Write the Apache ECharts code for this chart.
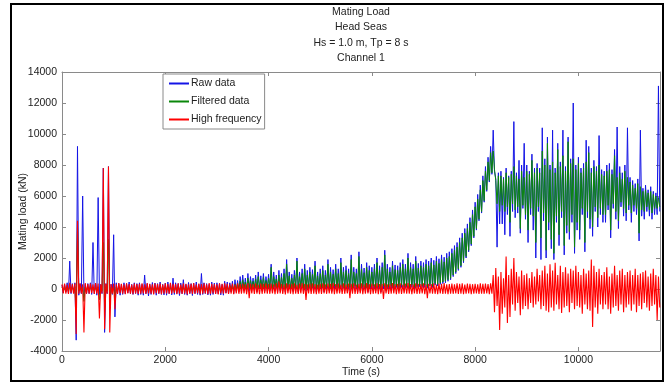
<!DOCTYPE html>
<html><head><meta charset="utf-8">
<script src="https://cdn.jsdelivr.net/npm/echarts@6/dist/echarts.min.js"></script>
<style>html,body{margin:0;padding:0;background:#fff}#c{width:667px;height:383px}</style>
</head><body><div id="c"></div>
<script>
const titleLines = ['Mating Load', 'Head Seas', 'Hs = 1.0 m, Tp = 8 s', 'Channel 1'];
const seriesNames = ['Raw data', 'Filtered data', 'High frequency'];
const xAxisName = 'Time (s)';
const yAxisName = 'Mating load (kN)';
const timeStep = 25;   // seconds between samples
const timeMax = 11580;
const yMin = -4000, yMax = 14000, yStep = 2000, xStep = 2000;

// one row = 20 samples = 500 s
const rawData = [
  250,-250,300,-200,400,-300,1800,-300,350,-250,400,-3300,9200,-400,350,-300,6000,-400,300,-300,
  350,-300,400,-350,3000,-300,350,-400,5900,-350,300,-300,7800,-2800,350,-300,7900,-1000,300,-350,
  3500,-1800,400,-300,350,-400,300,-350,400,-300,350,-250,450,-300,300,-350,400,-300,350,-400,
  400,-350,300,-400,900,-300,350,-450,300,-350,420,-300,380,-400,350,-300,450,-350,300,-380,
  380,-400,450,-300,350,-380,700,-350,400,-300,350,-420,380,-300,600,-350,300,-400,420,-300,
  350,-420,380,-300,450,-350,300,-400,1000,-350,400,-300,350,-380,300,-400,450,-350,380,-300,
  400,-300,350,-380,300,-400,500,-250,450,-300,400,-200,500,-300,600,-150,550,-200,800,-100,
  900,-100,700,-200,1000,-150,800,0,700,-100,900,-200,1100,0,850,-100,1000,-150,800,0,
  950,-100,1600,-150,1100,0,900,-200,1200,-100,1000,0,1300,-200,1900,0,1100,-100,950,-150,
  1200,0,2000,-200,1100,0,1300,-100,1600,-150,1200,0,1400,-100,1250,0,1800,-200,1100,-100,
  1300,0,1500,-200,1200,0,1900,-100,1400,-150,1250,0,1600,-100,1300,-200,2000,0,1400,-100,
  1500,0,1300,-100,2200,-150,1400,0,1300,-200,2400,-100,1600,0,1350,-100,1700,-200,1500,0,
  1400,0,1600,-100,2000,0,1500,-200,1700,0,2500,-100,1600,0,1400,-100,1800,0,1550,100,
  1500,0,1700,100,1900,0,1600,100,2300,0,1700,100,1600,0,2100,100,1650,150,1800,100,
  1700,100,1900,50,1800,200,2000,100,1850,250,2100,200,1950,300,2200,350,2050,400,2300,500,
  2400,600,2600,800,2800,1000,3000,1200,3300,1400,3600,1700,3900,2000,4200,2400,4600,2800,5100,3300,
  5600,3800,6100,4400,6700,4900,7300,5600,7900,6300,8500,6900,9200,7400,10250,7600,7100,2700,7500,4200,
  7600,4200,7200,3500,7800,4800,7300,3400,7600,5000,10800,4600,7500,4900,8300,3600,8000,5200,9400,4500,
  8000,3000,7600,4800,8700,3800,7800,2000,8100,5000,7800,1900,10400,4400,8400,2000,9800,3800,8000,2600,
  10250,1900,7800,4300,9400,2800,8200,4600,10250,2200,7900,3600,9800,3200,8400,4300,12000,2300,8000,3800,
  8500,3200,7800,4800,8100,2400,9600,4600,9200,3900,7800,3400,8300,5000,7900,4000,9900,4800,7700,4300,
  7600,4300,8000,5100,8100,3300,7700,5200,9000,4500,10450,3900,7900,5300,7500,4700,8000,4400,10400,5100,
  7200,4300,7000,5000,6800,4800,7100,3100,10250,4700,6500,4500,6700,5000,6400,4700,6600,4500,6300,4800,
  6200,4800,13100,5000
];

const filteredData = [
  120,-100,150,-120,100,-130,140,-100,120,-110,150,-1500,4000,-120,130,-100,150,-800,120,-100,
  100,-120,150,-100,120,-130,100,-120,140,-700,120,-100,3000,-1200,150,-120,3200,-1300,100,-120,
  150,-600,120,-100,140,-120,100,-130,150,-100,120,-110,140,-120,100,-100,150,-130,120,-100,
  130,-110,150,-120,100,-140,120,-100,150,-130,110,-120,140,-100,130,-150,120,-110,100,-130,
  150,-100,120,-130,140,-110,100,-150,130,-120,150,-100,120,-140,110,-120,140,-100,130,-110,
  120,-140,150,-100,130,-120,110,-130,140,-100,150,-120,100,-110,130,-140,120,-100,150,-120,
  140,-100,120,-130,150,-110,130,-120,160,-100,200,-100,250,-80,300,-50,350,0,500,0,
  600,50,450,0,700,80,550,0,500,100,650,0,800,50,600,0,750,100,550,0,
  700,100,1400,0,800,150,650,50,900,0,750,100,1000,0,1600,100,850,50,700,0,
  900,100,1800,0,800,150,1000,50,1300,0,900,100,1100,0,950,150,1500,50,850,0,
  1000,100,1200,0,900,150,1600,100,1100,0,950,200,1300,100,1000,0,1700,150,1100,50,
  1200,150,1000,100,1900,50,1100,200,1000,100,2100,0,1300,150,1050,100,1400,0,1200,150,
  1100,200,1300,100,1700,150,1200,50,1400,200,2200,100,1300,150,1100,200,1500,100,1250,200,
  1200,100,1400,250,1600,150,1300,200,2000,100,1400,250,1300,150,1800,200,1350,250,1500,200,
  1400,250,1600,150,1500,300,1700,200,1550,350,1800,300,1650,400,1900,450,1750,500,2000,600,
  2100,700,2300,900,2500,1100,2700,1300,3000,1500,3300,1800,3600,2100,3900,2500,4300,2900,4800,3400,
  5300,3900,5800,4500,6400,5000,7000,5700,7600,6400,8200,7000,8800,7500,8900,7700,7000,5500,7300,5000,
  7300,5400,7100,5000,7500,5300,7200,4300,7400,5500,7900,5100,7300,5300,7100,3900,7600,5400,7200,4800,
  7600,3800,7400,5200,8300,4700,7500,3000,7800,5300,7500,3300,8900,4900,8000,2500,9400,4300,7700,3200,
  8200,2300,7500,4700,9000,3500,7900,5000,8600,2800,7600,4100,9500,3700,8100,4800,8400,2700,7700,4300,
  8100,3800,7500,5200,7800,3000,8200,5000,8800,4500,7500,4000,7900,5300,7600,4600,8000,5200,7400,4800,
  7300,4800,7600,5400,7700,3800,7400,5500,8600,5000,7200,4400,7500,5600,7100,5200,7600,4900,7200,5400,
  6900,4900,6700,5400,6500,5200,6800,3600,6600,5100,6300,5000,6400,5300,6200,5100,6300,4900,6100,5200,
  6000,5200,5900,5300
];

const highFreqData = [
  300,-280,350,-300,280,-320,400,-250,320,-300,350,-2900,4400,-300,350,-280,300,-2800,380,-300,
  320,-300,350,-270,300,-320,380,-300,350,-1900,300,-280,7800,-2600,340,-300,7900,-2800,320,-300,
  350,-1300,300,-320,380,-270,330,-300,300,-340,360,-280,320,-300,280,-330,350,-290,310,-320,
  330,-300,360,-280,300,-320,380,-290,340,-310,300,-350,370,-270,320,-300,350,-330,290,-300,
  360,-280,320,-310,400,-300,340,-260,310,-330,370,-300,280,-320,350,-290,330,-350,300,-280,
  340,-320,380,-300,290,-270,350,-330,320,-300,360,-280,300,-340,390,-310,330,-290,310,-320,
  300,-350,360,-290,330,-300,370,-280,340,-320,300,-300,350,-330,280,-290,360,-310,320,-300,
  350,-290,300,-330,380,-600,340,-280,310,-320,360,-300,290,-340,350,-310,330,-280,370,-300,
  320,-310,350,-280,300,-330,360,-300,500,-290,340,-320,300,-350,370,-280,310,-300,340,-330,
  360,-300,290,-320,350,-280,380,-310,330,-700,300,-290,350,-320,370,-300,320,-340,290,-300,
  340,-320,370,-290,300,-310,350,-280,330,-300,380,-330,310,-300,350,-280,290,-320,360,-310,
  300,-280,350,-600,330,-300,370,-320,290,-310,340,-280,360,-330,300,-300,380,-290,320,-340,
  350,-310,300,-280,370,-330,320,-300,340,-650,360,-290,300,-320,330,-300,390,-280,310,-330,
  330,-300,360,-320,290,-280,350,-310,380,-300,320,-340,300,-290,360,-320,340,-300,310,-280,
  370,-330,300,-600,340,-290,320,-300,360,-310,290,-330,350,-280,330,-320,380,-300,300,-340,
  320,-300,350,-310,300,-280,370,-320,340,-300,360,-330,290,-300,350,-290,330,-340,310,-300,
  340,-290,300,-320,360,-300,330,-310,350,-280,310,-330,370,-300,900,-1500,1350,-1100,800,-2650,
  1100,-1600,700,-1200,2100,-2200,900,-1800,1300,-1000,2000,-1400,1100,-900,800,-1700,1200,-1300,900,-1100,
  1000,-1300,700,-900,1100,-1200,800,-1000,1300,-800,900,-1300,1200,-1100,1500,-1400,1000,-1500,1600,-1200,
  1200,-1400,1700,-1000,900,-1300,1500,-1550,1100,-1200,1400,-1100,1000,-1500,1300,-900,1200,-1300,1500,-1100,
  1100,-1200,900,-1600,1300,-1000,1000,-1300,1200,-1400,1900,-2450,1500,-1200,1100,-1600,1300,-1000,900,-1300,
  1100,-1000,1400,-1300,800,-1600,1000,-1200,1500,-1100,900,-1400,1200,-1000,1300,-1500,900,-1200,1100,-1000,
  1200,-1400,900,-1000,1300,-1500,900,-1100,1000,-1300,1100,-900,1200,-1200,800,-1400,1000,-1100,1300,-1000,
  900,-2000,800,-1200
];

const seriesColors = ['#1414e6', '#0a870a', '#ff0000'];
const FONT = "'Liberation Sans', Arial, sans-serif";
const toPairs = arr => arr.map((v, i) => [i * timeStep, v]);

const chart = echarts.init(document.getElementById('c'), null, {renderer: 'canvas'});
const axisGrey = '#8a8a8a';
const baseAxis = {
  axisLine: {show: true, onZero: false, lineStyle: {color: axisGrey, width: 1}},
  axisTick: {show: true, inside: true, length: 4, lineStyle: {color: axisGrey}},
  splitLine: {show: false}
};
const fmt = v => String(v);

chart.setOption({
  animation: false,
  backgroundColor: '#ffffff',
  grid: {left: 62, right: 7, top: 72, bottom: 32, containLabel: false, outerBoundsMode: 'none'},
  legend: {
    orient: 'vertical', left: 163, top: 74,
    data: seriesNames,
    itemWidth: 20, itemHeight: 8, itemGap: 5,
    itemStyle: {opacity: 0},
    padding: [3, 3, 3, 5],
    backgroundColor: '#ffffff', borderColor: '#8a8a8a', borderWidth: 1, borderRadius: 0,
    textStyle: {fontFamily: FONT, fontSize: 10.5, color: '#222', lineHeight: 13, padding: [0, 0, 0, -3]}
  },
  xAxis: [
    Object.assign({}, baseAxis, {
      type: 'value', position: 'bottom', min: 0, max: timeMax, interval: xStep,
      name: xAxisName, nameLocation: 'middle', nameGap: 16, nameMoveOverlap: false,
      nameTextStyle: {fontFamily: FONT, fontSize: 10.5, color: '#222'},
      axisLabel: {show: true, fontFamily: FONT, fontSize: 10.5, color: '#222', margin: 4, formatter: fmt, showMaxLabel: false}
    }),
    Object.assign({}, baseAxis, {
      type: 'value', position: 'top', min: 0, max: timeMax, interval: xStep,
      axisLabel: {show: false}
    })
  ],
  yAxis: [
    Object.assign({}, baseAxis, {
      type: 'value', position: 'left', min: yMin, max: yMax, interval: yStep,
      name: yAxisName, nameLocation: 'middle', nameGap: 33, nameMoveOverlap: false,
      nameTextStyle: {fontFamily: FONT, fontSize: 10.5, color: '#222'},
      axisLabel: {show: true, fontFamily: FONT, fontSize: 10.5, color: '#222', margin: 5, formatter: fmt}
    }),
    Object.assign({}, baseAxis, {
      type: 'value', position: 'right', min: yMin, max: yMax, interval: yStep,
      axisLabel: {show: false}
    })
  ],
  series: [
    {name: seriesNames[0], type: 'line', data: toPairs(rawData), symbol: 'none', showSymbol: false,
     lineStyle: {color: seriesColors[0], width: 1}, itemStyle: {color: seriesColors[0]}, z: 2},
    {name: seriesNames[1], type: 'line', data: toPairs(filteredData), symbol: 'none', showSymbol: false,
     lineStyle: {color: seriesColors[1], width: 1}, itemStyle: {color: seriesColors[1]}, z: 3},
    {name: seriesNames[2], type: 'line', data: toPairs(highFreqData), symbol: 'none', showSymbol: false,
     lineStyle: {color: seriesColors[2], width: 1.1}, itemStyle: {color: seriesColors[2]}, z: 4}
  ],
  graphic: [
    {type: 'rect', shape: {x: 11, y: 4, width: 652, height: 377},
     style: {fill: 'none', stroke: '#000', lineWidth: 2}, silent: true, z: 100}
  ].concat(titleLines.map((t, i) => ({
    type: 'text', x: 361, y: 12 + i * 15.5, silent: true,
    style: {text: t, fill: '#222', font: '10.5px ' + FONT, textAlign: 'center', textVerticalAlign: 'middle'}
  })))
});
</script></body></html>
